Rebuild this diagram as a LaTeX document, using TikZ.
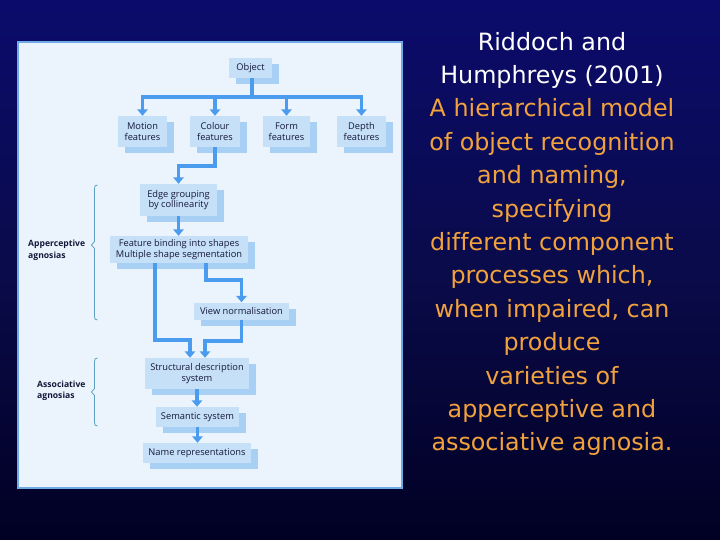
\documentclass[tikz,border=0pt]{standalone}
\usepackage{fontspec}
\setmainfont[Ligatures=NoCommon]{DejaVu Sans}
\newfontfamily\boxfont{Open Sans}
\usetikzlibrary{arrows.meta,shadows,calc}
\definecolor{bgtop}{HTML}{0B0B6C}
\definecolor{bgmid}{HTML}{0A0B4A}
\definecolor{bgbot}{HTML}{010024}
\definecolor{panel}{HTML}{EBF4FD}
\definecolor{panelline}{HTML}{6FA9E6}
\definecolor{boxfront}{HTML}{C6E0F8}
\definecolor{boxshadow}{HTML}{A8CFF4}
\definecolor{arrowblue}{HTML}{4B9BEE}
\definecolor{bracecol}{HTML}{5B9FC2}
\definecolor{orangetext}{HTML}{F2A23C}
\definecolor{boxtext}{HTML}{141838}
\begin{document}
\begin{tikzpicture}[x=1pt,y=-1pt,
  procbox/.style={fill=boxfront, draw=none, inner sep=0pt, align=center,
    text=boxtext, font=\boxfont\fontsize{9.3}{10.6}\selectfont,
    drop shadow={shadow xshift=7pt, shadow yshift=-6pt, fill=boxshadow, opacity=1}},
  conn/.style={draw=arrowblue, line width=3.6pt},
  arr/.style={conn, -{Triangle[width=10.5pt,length=6.5pt]}},
  bracestyle/.style={draw=bracecol, line width=0.8pt},
  agnlabel/.style={font=\boxfont\bfseries\fontsize{8.6}{11.5}\selectfont, text=boxtext, align=left, anchor=west, inner sep=0pt}
]
\useasboundingbox (0,0) rectangle (720,540);
\shade[top color=bgtop, bottom color=bgbot, middle color=bgmid] (0,0) rectangle (720,540);
\fill[panel] (18,42) rectangle (402,488);
\draw[panelline, line width=1.5pt] (18,42) rectangle (402,488);

% boxes
\node[procbox, minimum width=43pt, minimum height=20pt] (obj) at (250.5,68) {Object};
\node[procbox, minimum width=49pt, minimum height=31pt] (motion) at (142.5,131.5) {Motion\\features};
\node[procbox, minimum width=50pt, minimum height=31pt] (colour) at (215,131.5) {Colour\\features};
\node[procbox, minimum width=47pt, minimum height=31pt] (form) at (286.5,131.5) {Form\\features};
\node[procbox, minimum width=49pt, minimum height=31pt] (depth) at (361.5,131.5) {Depth\\features};
\node[procbox, minimum width=77pt, minimum height=32pt] (edge) at (178.5,200) {Edge grouping\\by collinearity};
\node[procbox, minimum width=138pt, minimum height=27pt] (bind) at (179,249.5) {Feature binding into shapes\\Multiple shape segmentation};
\node[procbox, minimum width=95pt, minimum height=17pt] (view) at (241.5,311) {View normalisation};
\node[procbox, minimum width=104pt, minimum height=31pt] (struct) at (197,373.5) {Structural description\\system};
\node[procbox, minimum width=83pt, minimum height=20pt] (sem) at (197.5,417) {Semantic system};
\node[procbox, minimum width=108pt, minimum height=20pt] (name) at (197,453) {Name representations};

% connectors
\coordinate (bar) at ([xshift=1.5pt]obj.south |- 0,97);
\draw[conn] ([xshift=1.5pt]obj.south) -- (bar);
\draw[arr] (bar) -| (motion.north);
\draw[arr] (bar) -| (colour.north);
\draw[arr] (bar) -| (form.north);
\draw[arr] (bar) -| (depth.north);
\draw[arr] (colour.south) -- ++(0,19) -| (edge.north);
\draw[arr] (edge.south) -- (edge.south |- bind.north);
\draw[arr] ([xshift=27pt]bind.south) -- ++(0,17) -| (view.north);
\draw[arr] ([xshift=-24pt]bind.south) -- ++(0,77) -| ([xshift=-7pt]struct.north);
\draw[arr] (view.south) -- ++(0,21) -| ([xshift=8pt]struct.north);
\draw[arr] (struct.south) -- (struct.south |- sem.north);
\draw[arr] (sem.south) -- (sem.south |- name.north);

% braces
\draw[bracestyle] (97.5,185) .. controls (95,185) and (94.5,186) .. (94.5,189)
  -- (94.5,241.5) -- (91.5,245) -- (94.5,248.5) -- (94.5,316)
  .. controls (94.5,319) and (95,320) .. (97.5,320);
\draw[bracestyle] (97.5,358) .. controls (95,358) and (94.5,359) .. (94.5,362)
  -- (94.5,388.5) -- (91.5,392) -- (94.5,395.5) -- (94.5,422)
  .. controls (94.5,425) and (95,426) .. (97.5,426);
\node[agnlabel] (apper) at (28,250.5) {Apperceptive\\agnosias};
\node[agnlabel] (assoc) at (37,391) {Associative\\agnosias};

% right text
\node[align=center, font=\fontsize{23.8}{33.4}\selectfont, inner sep=0pt] (title) at (552,244)
 {\textcolor{white}{Riddoch and}\\
  \textcolor{white}{Humphreys (2001)}\\
  \textcolor{orangetext}{A hierarchical model}\\
  \textcolor{orangetext}{of object recognition}\\
  \textcolor{orangetext}{and naming,}\\
  \textcolor{orangetext}{specifying}\\
  \textcolor{orangetext}{different component}\\
  \textcolor{orangetext}{processes which,}\\
  \textcolor{orangetext}{when impaired, can}\\
  \textcolor{orangetext}{produce}\\
  \textcolor{orangetext}{varieties of}\\
  \textcolor{orangetext}{apperceptive and}\\
  \textcolor{orangetext}{associative agnosia.}};
\end{tikzpicture}
\end{document}
